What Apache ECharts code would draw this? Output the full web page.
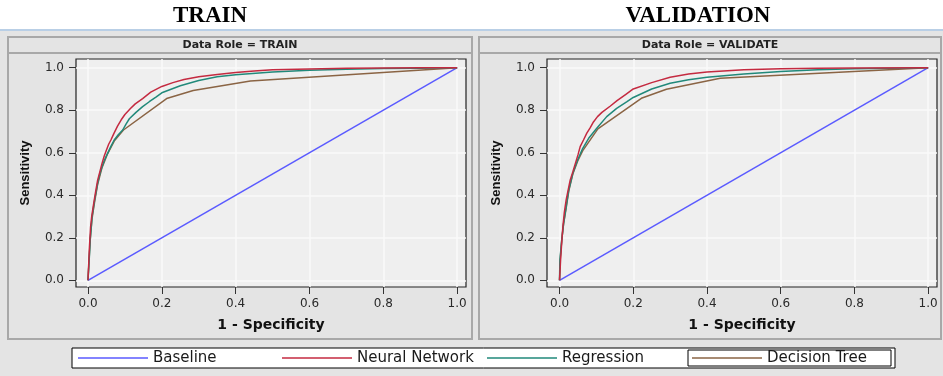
<!DOCTYPE html>
<html>
<head>
<meta charset="utf-8">
<script src="https://cdn.jsdelivr.net/npm/echarts@6/dist/echarts.min.js"></script>
<style>
  html, body { margin: 0; padding: 0; background: #fff; }
  #chart { width: 943px; height: 376px; }
</style>
</head>
<body>
<div id="chart"></div>
<script>
// ROC points [1 - specificity, sensitivity]
const baseline = [[0, 0], [1, 1]];

const trainNN = [[0,0],[0.002,0.08],[0.004,0.16],[0.007,0.25],[0.01,0.3],[0.014,0.346],[0.02,0.41],[0.026,0.47],
  [0.032,0.51],[0.038,0.55],[0.044,0.585],[0.05,0.613],[0.056,0.64],[0.062,0.66],[0.07,0.69],[0.08,0.725],
  [0.09,0.755],[0.1,0.78],[0.115,0.808],[0.128,0.83],[0.148,0.855],[0.17,0.885],[0.2,0.912],[0.23,0.93],
  [0.26,0.945],[0.3,0.958],[0.35,0.968],[0.4,0.977],[0.45,0.985],[0.5,0.99],[0.6,0.994],[0.7,0.997],
  [0.8,0.999],[0.9,1],[1,1]];
const trainReg = [[0,0],[0.002,0.06],[0.004,0.12],[0.006,0.19],[0.011,0.3],[0.018,0.378],[0.026,0.456],
  [0.032,0.5],[0.038,0.534],[0.045,0.567],[0.053,0.597],[0.062,0.63],[0.071,0.66],[0.082,0.685],[0.094,0.707],
  [0.103,0.735],[0.112,0.76],[0.13,0.79],[0.148,0.817],[0.166,0.84],[0.184,0.862],[0.2,0.882],[0.25,0.915],
  [0.3,0.94],[0.35,0.957],[0.4,0.967],[0.5,0.98],[0.6,0.988],[0.7,0.993],[0.8,0.996],[0.9,0.998],[1,1]];
const trainTree = [[0,0],[0.003,0.1],[0.006,0.19],[0.011,0.29],[0.018,0.37],[0.026,0.45],[0.038,0.53],
  [0.053,0.595],[0.071,0.655],[0.096,0.707],[0.213,0.855],[0.285,0.893],[0.44,0.937],[1,1]];

const validNN = [[0,0],[0.003,0.1],[0.006,0.18],[0.009,0.25],[0.013,0.32],[0.018,0.378],[0.024,0.43],
  [0.029,0.472],[0.036,0.51],[0.043,0.55],[0.05,0.59],[0.056,0.629],[0.065,0.66],[0.074,0.692],[0.083,0.717],
  [0.092,0.745],[0.103,0.77],[0.115,0.79],[0.138,0.82],[0.156,0.845],[0.18,0.875],[0.2,0.9],[0.25,0.93],
  [0.3,0.955],[0.35,0.97],[0.4,0.98],[0.5,0.99],[0.6,0.995],[0.7,0.998],[0.8,0.999],[1,1]];
const validReg = [[0,0],[0.001,0.095],[0.006,0.19],[0.011,0.268],[0.018,0.346],[0.025,0.425],[0.036,0.503],
  [0.049,0.566],[0.063,0.621],[0.079,0.668],[0.101,0.715],[0.128,0.77],[0.155,0.809],[0.183,0.84],[0.2,0.86],
  [0.25,0.9],[0.3,0.927],[0.35,0.943],[0.4,0.955],[0.5,0.97],[0.6,0.982],[0.7,0.99],[0.8,0.995],[0.9,0.998],[1,1]];
const validTree = [[0,0],[0.002,0.1],[0.006,0.19],[0.011,0.265],[0.018,0.34],[0.025,0.42],[0.036,0.5],
  [0.049,0.56],[0.063,0.61],[0.104,0.712],[0.222,0.856],[0.29,0.899],[0.436,0.95],[1,1]];

const tickValues = [0, 0.2, 0.4, 0.6, 0.8, 1.0];
const modelNames = ['Baseline', 'Neural Network', 'Regression', 'Decision Tree'];
const modelColors = ['#5a5aff', '#c42a40', '#21897a', '#8a6444'];
const panelTitles = ['TRAIN', 'VALIDATION'];
const roleLabels = ['Data Role = TRAIN', 'Data Role = VALIDATE'];

const sans = 'DejaVu Sans';
const chart = echarts.init(document.getElementById('chart'));

function makeX(idx, min) {
  return {
    type: 'value', gridIndex: idx, min: min, max: 1.024,
    name: '1 - Specificity', nameLocation: 'middle', nameGap: 31,
    nameTextStyle: { fontFamily: sans, fontWeight: 'bold', fontSize: 14, color: '#111' },
    axisLine: { show: false, onZero: false },
    axisTick: { show: true, length: 7, customValues: tickValues, lineStyle: { color: '#333' } },
    axisLabel: { customValues: tickValues, margin: 11, fontFamily: sans, fontSize: 12, color: '#2a2a2a',
      formatter: v => v.toFixed(1) },
    splitLine: { show: true, lineStyle: { color: '#fafafa', width: 1.5 } }
  };
}
function makeY(idx) {
  return {
    type: 'value', gridIndex: idx, min: -0.0315, max: 1.041,
    name: 'Sensitivity', nameLocation: 'middle', nameGap: 44,
    nameTextStyle: { fontFamily: 'Liberation Sans', fontWeight: 'bold', fontSize: 13, color: '#111' },
    axisLine: { show: false, onZero: false },
    axisTick: { show: true, length: 7, customValues: tickValues, lineStyle: { color: '#333' } },
    axisLabel: { customValues: tickValues, margin: 12, fontFamily: sans, fontSize: 12, color: '#2a2a2a',
      formatter: v => v.toFixed(1) },
    splitLine: { show: true, lineStyle: { color: '#fafafa', width: 1.5 } }
  };
}

const panelData = [
  [baseline, trainNN, trainReg, trainTree],
  [baseline, validNN, validReg, validTree]
];
const series = [];
panelData.forEach((sets, p) => {
  sets.forEach((d, i) => {
    series.push({
      name: modelNames[i], type: 'line', xAxisIndex: p, yAxisIndex: p,
      data: d, symbol: 'none', animation: false,
      lineStyle: { color: modelColors[i], width: 1.5 },
      itemStyle: { color: modelColors[i] },
      z: i === 0 ? 2 : 6 - i
    });
  });
});

const legendLeft = [78, 282, 487, 692];
const legends = modelNames.map((n, i) => ({
  data: [{ name: n, icon: 'rect' }], left: legendLeft[i], top: 350, padding: 0, orient: 'horizontal',
  itemWidth: 70, itemHeight: 1.5, itemGap: 0, itemTextGap: 6,
  textStyle: { fontFamily: sans, fontSize: 15, color: '#1a1a1a', lineHeight: 16 },
  selectedMode: false
}));

const panels = [{ x: 8, w: 464 }, { x: 479, w: 462 }];
const graphic = [
  { type: 'rect', shape: { x: 0, y: 31, width: 943, height: 345 }, style: { fill: '#e4e4e4' }, z: -100 },
  { type: 'rect', shape: { x: 0, y: 29, width: 943, height: 2 }, style: { fill: '#b9cfe6' }, z: -100 },
  { type: 'text', x: 210, y: 16, style: { text: panelTitles[0], fontFamily: 'Liberation Serif',
      fontWeight: 'bold', fontSize: 23, fill: '#000', textAlign: 'center', textVerticalAlign: 'middle' } },
  { type: 'text', x: 698, y: 16, style: { text: panelTitles[1], fontFamily: 'Liberation Serif',
      fontWeight: 'bold', fontSize: 23, fill: '#000', textAlign: 'center', textVerticalAlign: 'middle' } },
  { type: 'rect', shape: { x: 72, y: 348, width: 823, height: 20 },
    style: { fill: '#fff', stroke: '#000', lineWidth: 1 }, z: 1 },
  { type: 'rect', shape: { x: 688, y: 350, width: 203, height: 16 },
    style: { fill: 'none', stroke: '#000', lineWidth: 1 }, z: 1 }
];
panels.forEach((p, i) => {
  graphic.push({ type: 'rect', shape: { x: p.x, y: 37, width: p.w, height: 302 },
    style: { fill: '#e4e4e4', stroke: '#a8a8a8', lineWidth: 2 }, z: -90 });
  graphic.push({ type: 'line', shape: { x1: p.x, y1: 53, x2: p.x + p.w, y2: 53 },
    style: { stroke: '#a8a8a8', lineWidth: 2 }, z: -90 });
  graphic.push({ type: 'text', x: p.x + p.w / 2, y: 45, style: { text: roleLabels[i], fontFamily: sans,
    fontWeight: 'bold', fontSize: 11, fill: '#222', textAlign: 'center', textVerticalAlign: 'middle' } });
});

const option = {
  backgroundColor: '#fff',
  animation: false,
  grid: [
    { left: 76, top: 59, width: 390, height: 228, show: true, backgroundColor: '#efefef',
      borderColor: '#222', borderWidth: 1.2 },
    { left: 547, top: 59, width: 390, height: 228, show: true, backgroundColor: '#efefef',
      borderColor: '#222', borderWidth: 1.2 }
  ],
  xAxis: [makeX(0, -0.0325), makeX(1, -0.034)],
  yAxis: [makeY(0), makeY(1)],
  legend: legends,
  graphic: graphic,
  series: series
};

option && chart.setOption(option);
</script>
</body>
</html>
